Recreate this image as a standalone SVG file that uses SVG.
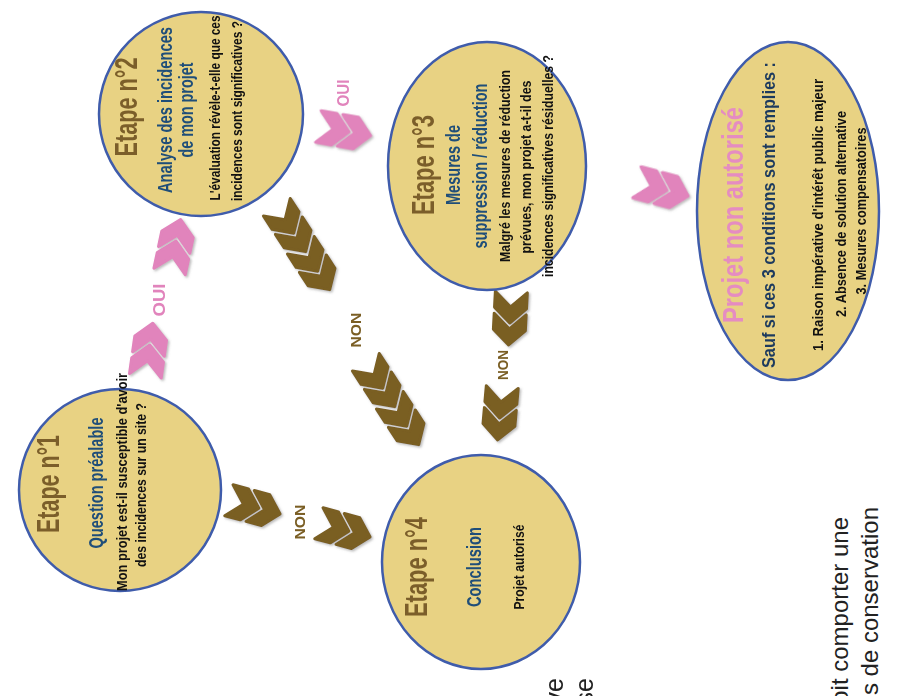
<svg xmlns="http://www.w3.org/2000/svg" xmlns:xlink="http://www.w3.org/1999/xlink" width="897" height="696" viewBox="0 0 897 696">
<style>
text{font-family:"Liberation Sans",Arial,sans-serif;text-anchor:middle}
.node{fill:#E8D283;stroke:#3F5CAB;stroke-width:2.5}
.et{font-size:32px;font-weight:bold;fill:#7B5E2A}
.sub{font-size:20px;font-weight:bold;fill:#1F4E79}
.q{font-size:14px;font-weight:bold;fill:#111}
.na{font-size:30px;font-weight:bold;fill:#E58CC1}
.cond{font-size:18px;font-weight:bold;fill:#1C3A5E}
.lst{font-size:14px;font-weight:bold;fill:#111}
.pk{fill:#E184BC;stroke:#E184BC;stroke-width:3;stroke-linejoin:round}
.br{fill:#7A5E24;stroke:#7A5E24;stroke-width:3;stroke-linejoin:round}
.lp{font-size:16px;font-weight:bold;fill:#E184BC}
.lb{font-size:15px;font-weight:bold;fill:#7A5E24}
.bg{font-size:24px;fill:#222;text-anchor:end}
</style>
<defs>
<filter id="sh" x="-30%" y="-30%" width="160%" height="160%"><feDropShadow dx="1.5" dy="1.5" stdDeviation="1" flood-color="#777" flood-opacity="0.5"/></filter>
<path id="chev" d="M-15,-16 L1,-16 L16,0 L1,16 L-15,16 L0,0 Z"/>
<g id="dch"><use xlink:href="#chev" x="-11"/><use xlink:href="#chev" x="11"/></g>
</defs>
<rect width="897" height="696" fill="#fff"/>

<g id="connectors">
<g filter="url(#sh)">
<use xlink:href="#dch" class="pk" transform="translate(149,350) rotate(-82)"/>
<use xlink:href="#dch" class="pk" transform="translate(175,246) rotate(-78)"/>
<use xlink:href="#dch" class="pk" transform="translate(344,131) rotate(10)"/>
<use xlink:href="#dch" class="pk" transform="translate(662,189) rotate(15)"/>
<use xlink:href="#dch" class="br" transform="translate(254,507) rotate(15)"/>
<use xlink:href="#dch" class="br" transform="translate(344,530) rotate(15)"/>
<use xlink:href="#dch" class="br" transform="translate(291,229) rotate(57)"/>
<use xlink:href="#dch" class="br" transform="translate(315,267) rotate(57)"/>
<use xlink:href="#dch" class="br" transform="translate(380,384) rotate(57)"/>
<use xlink:href="#dch" class="br" transform="translate(404,422) rotate(57)"/>
<use xlink:href="#dch" class="br" transform="translate(510,318) rotate(93)"/>
<use xlink:href="#dch" class="br" transform="translate(500,413) rotate(95)"/>
</g>
<text class="lp" transform="translate(165,300) rotate(-90)" textLength="33" lengthAdjust="spacingAndGlyphs">OUI</text>
<text class="lp" transform="translate(349,93) rotate(-90)" textLength="27" lengthAdjust="spacingAndGlyphs">OUI</text>
<text class="lb" transform="translate(305,522) rotate(-90)" textLength="35" lengthAdjust="spacingAndGlyphs">NON</text>
<text class="lb" transform="translate(361,330) rotate(-90)" textLength="35" lengthAdjust="spacingAndGlyphs">NON</text>
<text class="lb" transform="translate(508,365) rotate(-90)" textLength="30" lengthAdjust="spacingAndGlyphs">NON</text>
</g>

<g id="etape1">
<circle class="node" cx="120" cy="490" r="101"/>
<text class="et" transform="translate(59,484) rotate(-90)" textLength="98" lengthAdjust="spacingAndGlyphs">Etape n°1</text>
<text class="sub" transform="translate(103,483) rotate(-90)" textLength="131" lengthAdjust="spacingAndGlyphs">Question préalable</text>
<text class="q" transform="translate(127,482) rotate(-90)" textLength="218" lengthAdjust="spacingAndGlyphs">Mon projet est-il susceptible d'avoir</text>
<text class="q" transform="translate(146,485) rotate(-90)" textLength="164" lengthAdjust="spacingAndGlyphs">des incidences sur un site ?</text>
</g>

<g id="etape2">
<circle class="node" cx="201" cy="114" r="102"/>
<text class="et" transform="translate(137,107) rotate(-90)" textLength="99" lengthAdjust="spacingAndGlyphs">Etape n°2</text>
<text class="sub" transform="translate(172,110) rotate(-90)" textLength="166" lengthAdjust="spacingAndGlyphs">Analyse des incidences</text>
<text class="sub" transform="translate(193,110) rotate(-90)" textLength="95" lengthAdjust="spacingAndGlyphs">de mon projet</text>
<text class="q" transform="translate(220,108) rotate(-90)" textLength="185" lengthAdjust="spacingAndGlyphs">L'évaluation révèle-t-elle que ces</text>
<text class="q" transform="translate(242,111) rotate(-90)" textLength="180" lengthAdjust="spacingAndGlyphs">incidences sont significatives ?</text>
</g>

<g id="etape3">
<ellipse class="node" cx="487" cy="166" rx="99" ry="124"/>
<text class="et" transform="translate(434,165) rotate(-90)" textLength="100" lengthAdjust="spacingAndGlyphs">Etape n°3</text>
<text class="sub" transform="translate(460,165) rotate(-90)" textLength="80" lengthAdjust="spacingAndGlyphs">Mesures de</text>
<text class="sub" transform="translate(487,166) rotate(-90)" textLength="165" lengthAdjust="spacingAndGlyphs">suppression / réduction</text>
<text class="q" transform="translate(510,166) rotate(-90)" textLength="192" lengthAdjust="spacingAndGlyphs">Malgré les mesures de réduction</text>
<text class="q" transform="translate(531,167) rotate(-90)" textLength="173" lengthAdjust="spacingAndGlyphs">prévues, mon projet a-t-il des</text>
<text class="q" transform="translate(553,166) rotate(-90)" textLength="222" lengthAdjust="spacingAndGlyphs">incidences significatives résiduelles ?</text>
</g>

<g id="non-autorise">
<ellipse class="node" cx="788" cy="211" rx="91" ry="169"/>
<text class="na" transform="translate(743,215) rotate(-90)" textLength="216" lengthAdjust="spacingAndGlyphs">Projet non autorisé</text>
<text class="cond" transform="translate(775,215) rotate(-90)" textLength="306" lengthAdjust="spacingAndGlyphs">Sauf si ces 3 conditions sont remplies :</text>
<text class="lst" transform="translate(823,215) rotate(-90)" textLength="272" lengthAdjust="spacingAndGlyphs">1. Raison impérative d'intérêt public majeur</text>
<text class="lst" transform="translate(846,214) rotate(-90)" textLength="206" lengthAdjust="spacingAndGlyphs">2. Absence de solution alternative</text>
<text class="lst" transform="translate(866,211) rotate(-90)" textLength="167" lengthAdjust="spacingAndGlyphs">3. Mesures compensatoires</text>
</g>

<g id="etape4">
<ellipse class="node" cx="481" cy="562" rx="99" ry="107"/>
<text class="et" transform="translate(427,567) rotate(-90)" textLength="100" lengthAdjust="spacingAndGlyphs">Etape n°4</text>
<text class="sub" transform="translate(481,567) rotate(-90)" textLength="80" lengthAdjust="spacingAndGlyphs">Conclusion</text>
<text class="q" transform="translate(524,567) rotate(-90)" textLength="85" lengthAdjust="spacingAndGlyphs">Projet autorisé</text>
</g>

<g id="background-text">
<text class="bg" style="font-size:25px" transform="translate(563,678) rotate(-90)">ve</text>
<text class="bg" style="font-size:25px" transform="translate(593,678) rotate(-90)">se</text>
<text class="bg" transform="translate(848,517) rotate(-90)">oit comporter une</text>
<text class="bg" transform="translate(878,507) rotate(-90)">s de conservation</text>
</g>
</svg>
